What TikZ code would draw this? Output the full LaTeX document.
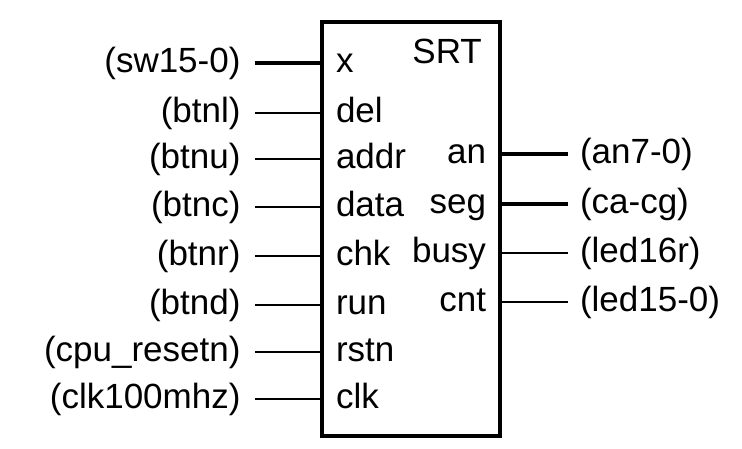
\documentclass[tikz,border=0pt]{standalone}
\usepackage{fontspec}
\setmainfont{Liberation Sans}
\tikzset{
  sig/.style={inner sep=0pt, outer sep=0pt, text height=26pt, text depth=7pt, font=\fontsize{35}{42}\selectfont},
  inport/.style={sig, anchor=west, inner xsep=14pt},
  outport/.style={sig, anchor=east, inner xsep=14pt},
  inpin/.style={sig, anchor=east, inner xsep=14.5pt},
  outpin/.style={sig, anchor=west, inner xsep=12pt},
  wire/.style={line width=2pt},
  bus/.style={line width=3.3pt},
}
\begin{document}
\begin{tikzpicture}[x=1pt, y=-1pt]
    \useasboundingbox (0,0) rectangle (742,448);
    \node[draw, line width=4pt, inner sep=0pt, outer sep=0pt, minimum width=178pt, minimum height=413.5pt, anchor=north west] (srt) at (322,22) {};
    \node[inner sep=0pt, anchor=base east, font=\fontsize{35}{42}\selectfont] (title) at (482,63) {SRT};
    \node[inport] (x) at (322,63) {x};
    \node[inport] (del) at (322,113) {del};
    \node[inport] (addr) at (322,159) {addr};
    \node[inport] (data) at (322,207) {data};
    \node[inport] (chk) at (322,256) {chk};
    \node[inport] (run) at (322,305) {run};
    \node[inport] (rstn) at (322,352) {rstn};
    \node[inport] (clk) at (322,399) {clk};
    \node[outport] (an) at (500,154) {an};
    \node[outport] (seg) at (500,204) {seg};
    \node[outport] (busy) at (500,253) {busy};
    \node[outport] (cnt) at (500,302) {cnt};
    \node[inpin] (sw) at (255,63) {(sw15-0)};
    \node[inpin] (btnl) at (255,113) {(btnl)};
    \node[inpin] (btnu) at (255,159) {(btnu)};
    \node[inpin] (btnc) at (255,207) {(btnc)};
    \node[inpin] (btnr) at (255,256) {(btnr)};
    \node[inpin] (btnd) at (255,305) {(btnd)};
    \node[inpin] (cpurst) at (255,352) {(cpu\_resetn)};
    \node[inpin] (clkin) at (255,399) {(clk100mhz)};
    \node[outpin] (anout) at (568,154) {(an7-0)};
    \node[outpin] (caout) at (568,204) {(ca-cg)};
    \node[outpin] (busyled) at (568,253) {(led16r)};
    \node[outpin] (cntled) at (568,302) {(led15-0)};
    \draw[bus] (sw) -- (x);
    \draw[wire] (btnl) -- (del);
    \draw[wire] (btnu) -- (addr);
    \draw[wire] (btnc) -- (data);
    \draw[wire] (btnr) -- (chk);
    \draw[wire] (btnd) -- (run);
    \draw[wire] (cpurst) -- (rstn);
    \draw[wire] (clkin) -- (clk);
    \draw[bus] (an) -- (anout);
    \draw[bus] (seg) -- (caout);
    \draw[wire] (busy) -- (busyled);
    \draw[wire] (cnt) -- (cntled);
\end{tikzpicture}
\end{document}
